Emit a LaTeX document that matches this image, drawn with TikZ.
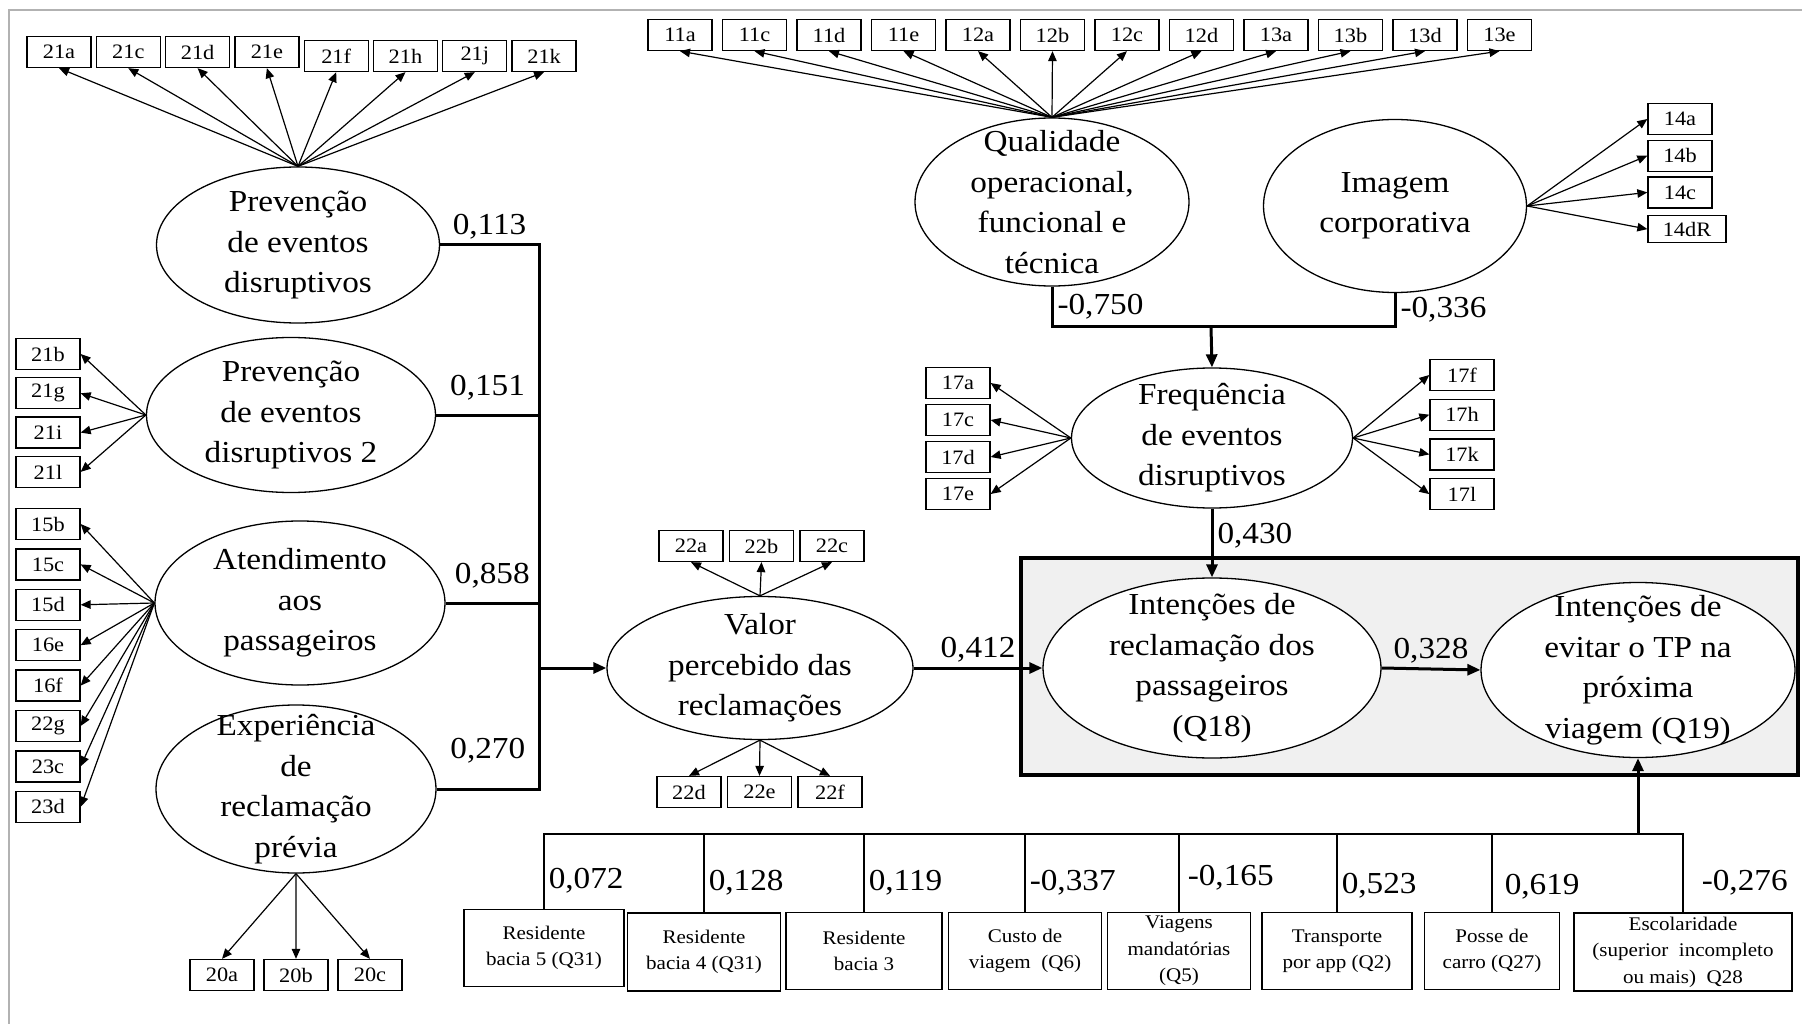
\documentclass[tikz,border=0pt]{standalone}
\usepackage{fontspec}
\setmainfont{Liberation Serif}[FakeStretch=1.09]
\usetikzlibrary{positioning,shapes.geometric,arrows.meta}

\begin{document}
\begin{tikzpicture}[x=0.1mm,y=-0.1mm,>={Triangle[length=1mm,width=0.85mm]},
    latent/.style={ellipse,draw,fill=white,line width=0.13mm,inner sep=0pt},
    lattext/.style={align=center,font=\fontsize{3.05mm}{4.05mm}\selectfont},
    ind/.style={rectangle,draw,line width=0.13mm,minimum width=6.4mm,minimum height=3.1mm,inner sep=0pt,font=\fontsize{2.05mm}{2.4mm}\selectfont},
    cov/.style={rectangle,draw,line width=0.13mm,inner sep=0pt,align=center,minimum height=7.65mm,font=\fontsize{1.93mm}{2.65mm}\selectfont},
    coef/.style={inner sep=0.4mm,font=\fontsize{3.05mm}{3.6mm}\selectfont},
    load/.style={->,line width=0.12mm},
    struct/.style={line width=0.3mm,>={Triangle[length=1.3mm,width=1.1mm]}},
    bus/.style={line width=0.15mm}]
    \useasboundingbox (0,0) rectangle (1802,1024);
    \draw[gray!60,line width=0.2mm] (9,1024) -- (9,10) -- (1802,10);

    % shaded block round the two outcomes
    \draw[line width=0.35mm,fill=gray!12] (1021,558) rectangle (1798,775);

    % latent constructs
    \node[latent,minimum width=28.3mm,minimum height=15.6mm,label={[lattext]center:{Prevenção\\de eventos\\disruptivos}}] (pv1) at (298,245) {};
    \node[latent,minimum width=28.9mm,minimum height=15.5mm,label={[lattext]center:{Prevenção\\de eventos\\disruptivos 2}}] (pv2) at (291,415) {};
    \node[latent,minimum width=29mm,minimum height=16.4mm,label={[lattext]center:{Atendimento\\aos\\passageiros}}] (atd) at (300,603) {};
    \node[latent,minimum width=28mm,minimum height=16.8mm,label={[lattext]center:{Experiência\\de\\reclamação\\prévia}}] (exp) at (296,789) {};
    \node[latent,minimum width=30.6mm,minimum height=14.3mm,label={[lattext]center:{Valor\\percebido das\\reclamações}}] (valor) at (760,668) {};
    \node[latent,minimum width=27.4mm,minimum height=16.8mm,label={[lattext]center:{Qualidade\\operacional,\\funcional e\\técnica}}] (qual) at (1052,202) {};
    \node[latent,minimum width=26.3mm,minimum height=17.3mm,label={[lattext]center:{Imagem\\corporativa}}] (img) at (1395,206) {};
    \node[latent,minimum width=28.1mm,minimum height=14mm,label={[lattext]center:{Frequência\\de eventos\\disruptivos}}] (freq) at (1212,438) {};
    \node[latent,minimum width=33.8mm,minimum height=18mm,label={[lattext]center:{Intenções de\\reclamação dos\\passageiros\\(Q18)}}] (q18) at (1212,668) {};
    \node[latent,minimum width=31.4mm,minimum height=17.5mm,label={[lattext]center:{Intenções de\\evitar o TP na\\próxima\\viagem (Q19)}}] (q19) at (1638,670) {};

    % indicators
    \begin{scope}[node distance=6.93mm]
    \node[ind] (i21a) at (59,52) {21a};
    \node[ind] (i21c) [right of=i21a] {21c};
    \node[ind] (i21d) [right of=i21c] {21d};
    \node[ind] (i21e) [right of=i21d] {21e};
    \node[ind] (i21f) [right of=i21e,yshift=-0.4mm] {21f};
    \node[ind] (i21h) [right of=i21f] {21h};
    \node[ind] (i21j) [right of=i21h] {21j};
    \node[ind] (i21k) [right of=i21j] {21k};
    \end{scope}
    \begin{scope}[node distance=7.45mm]
    \node[ind] (i11a) at (680,35) {11a};
    \node[ind] (i11c) [right of=i11a] {11c};
    \node[ind] (i11d) [right of=i11c] {11d};
    \node[ind] (i11e) [right of=i11d] {11e};
    \node[ind] (i12a) [right of=i11e] {12a};
    \node[ind] (i12b) [right of=i12a] {12b};
    \node[ind] (i12c) [right of=i12b] {12c};
    \node[ind] (i12d) [right of=i12c] {12d};
    \node[ind] (i13a) [right of=i12d] {13a};
    \node[ind] (i13b) [right of=i13a] {13b};
    \node[ind] (i13d) [right of=i13b] {13d};
    \node[ind] (i13e) [right of=i13d] {13e};
    \end{scope}
    \begin{scope}[node distance=3.93mm]
    \node[ind] (i21b) at (48,354) {21b};
    \node[ind] (i21g) [below of=i21b] {21g};
    \node[ind] (i21i) [below of=i21g] {21i};
    \node[ind] (i21l) [below of=i21i] {21l};
    \end{scope}
    \begin{scope}[node distance=4.04mm]
    \node[ind] (i15b) at (48,524) {15b};
    \node[ind] (i15c) [below of=i15b] {15c};
    \node[ind] (i15d) [below of=i15c] {15d};
    \node[ind] (i16e) [below of=i15d] {16e};
    \node[ind] (i16f) [below of=i16e] {16f};
    \node[ind] (i22g) [below of=i16f] {22g};
    \node[ind] (i23c) [below of=i22g] {23c};
    \node[ind] (i23d) [below of=i23c] {23d};
    \end{scope}
    \begin{scope}[node distance=7.4mm]
    \node[ind] (i20a) at (222,975) {20a};
    \node[ind] (i20b) [right of=i20a] {20b};
    \node[ind] (i20c) [right of=i20b] {20c};
    \end{scope}
    \begin{scope}[node distance=7.05mm]
    \node[ind] (i22a) at (691,546) {22a};
    \node[ind] (i22b) [right of=i22a] {22b};
    \node[ind] (i22c) [right of=i22b] {22c};
    \node[ind] (i22d) at (689,792) {22d};
    \node[ind] (i22e) [right of=i22d] {22e};
    \node[ind] (i22f) [right of=i22e] {22f};
    \end{scope}
    \begin{scope}[node distance=3.7mm]
    \node[ind] (i17a) at (958,383) {17a};
    \node[ind] (i17c) [below of=i17a] {17c};
    \node[ind] (i17d) [below of=i17c] {17d};
    \node[ind] (i17e) [below of=i17d] {17e};
    \end{scope}
    \begin{scope}[node distance=3.97mm]
    \node[ind] (i17f) at (1462,375) {17f};
    \node[ind] (i17h) [below of=i17f] {17h};
    \node[ind] (i17k) [below of=i17h] {17k};
    \node[ind] (i17l) [below of=i17k] {17l};
    \end{scope}
    \begin{scope}[node distance=3.67mm]
    \node[ind] (i14a) at (1680,119) {14a};
    \node[ind] (i14b) [below of=i14a] {14b};
    \node[ind] (i14c) [below of=i14b] {14c};
    \node[ind,minimum width=7.8mm,minimum height=2.7mm,xshift=0.7mm] (i14dR) [below of=i14c] {14dR};
    \end{scope}

    % covariates
    \node[cov,minimum width=16mm] (c1) at (544,948) {Residente\\bacia 5 (Q31)};
    \node[cov,minimum width=15.3mm,minimum height=7.8mm] (c2) at (704,952) {Residente\\bacia 4 (Q31)};
    \node[cov,minimum width=15.6mm] (c3) at (864,951) {Residente\\bacia 3};
    \node[cov,minimum width=15.3mm] (c4) at (1025,951) {Custo de\\viagem~~(Q6)};
    \node[cov,minimum width=14.3mm] (c5) at (1179,951) {Viagens\\mandatórias\\(Q5)};
    \node[cov,minimum width=15mm] (c6) at (1337,951) {Transporte\\por app (Q2)};
    \node[cov,minimum width=13.5mm] (c7) at (1492,951) {Posse de\\carro (Q27)};
    \node[cov,minimum width=21.8mm,minimum height=7.8mm] (c8) at (1683,952) {Escolaridade\\(superior~~incompleto\\ou mais)~~Q28};

    % loadings
    \path[load] (pv1.north) edge (i21a.south) edge (i21c.south) edge (i21d.south) edge (i21e.south)
        edge (i21f.south) edge (i21h.south) edge (i21j.south) edge (i21k.south);
    \path[load] (pv2.west) edge (i21b.east) edge (i21g.east) edge (i21i.east) edge (i21l.east);
    \path[load] (atd.west) edge (i15b.east) edge (i15c.east) edge (i15d.east) edge (i16e.east)
        edge (i16f.east) edge (i22g.east) edge (i23c.east) edge (i23d.east);
    \path[load] (exp.south) edge (i20a.north) edge (i20b.north) edge (i20c.north);
    \path[load] (valor.north) edge (i22a.south) edge (i22b.south) edge (i22c.south);
    \path[load] (valor.south) edge (i22d.north) edge (i22e.north) edge (i22f.north);
    \path[load] (qual.north) edge (i11a.south) edge (i11c.south) edge (i11d.south) edge (i11e.south)
        edge (i12a.south) edge (i12b.south) edge (i12c.south) edge (i12d.south)
        edge (i13a.south) edge (i13b.south) edge (i13d.south) edge (i13e.south);
    \path[load] (img.east) edge (i14a.west) edge (i14b.west) edge (i14c.west) edge (i14dR.west);
    \path[load] (freq.west) edge (i17a.east) edge (i17c.east) edge (i17d.east) edge (i17e.east);
    \path[load] (freq.east) edge (i17f.west) edge (i17h.west) edge (i17k.west) edge (i17l.west);

    % structural paths
    \coordinate (jn) at (539,668);
    \draw[struct] (pv1.east) -| node[coef,pos=0.25,above] {0,113} (jn);
    \draw[struct] (pv2.east) -| node[coef,pos=0.25,above=0.9mm] {0,151} (jn);
    \draw[struct] (atd.east) -| node[coef,pos=0.25,above=0.9mm] {0,858} (jn);
    \draw[struct] (exp.east) -| node[coef,pos=0.25,above=2mm] {0,270} (jn);
    \draw[struct,->] (jn) -- (valor.west);

    \coordinate (fj) at (1211,327);
    \draw[struct] (qual.south) |- node[coef,pos=0.25,right] {-0,750} (fj);
    \draw[struct] (img.south) |- node[coef,pos=0.25,right] {-0,336} (fj);
    \draw[struct,->] (fj) -- (freq.north);
    \draw[struct,->] (freq.south) -- node[coef,pos=0.4,right] {0,430} (q18.north);
    \draw[struct,->] (valor.east) -- node[coef,above] {0,412} (q18.west);
    \draw[struct,->] (q18.east) -- node[coef,above] {0,328} (q19.west);

    \coordinate (bj) at (1638,834);
    \draw[bus] (c1.north) |- node[coef,pos=0.19,right] {0,072} (bj);
    \draw[bus] (c2.north) |- node[coef,pos=0.19,right] {0,128} (bj);
    \draw[bus] (c3.north) |- node[coef,pos=0.19,right] {0,119} (bj);
    \draw[bus] (c4.north) |- node[coef,pos=0.19,right] {-0,337} (bj);
    \draw[bus] (c5.north) |- node[coef,pos=0.22,right,xshift=0.4mm] {-0,165} (bj);
    \draw[bus] (c6.north) |- node[coef,pos=0.17,right] {0,523} (bj);
    \draw[bus] (c7.north) |- node[coef,pos=0.16,right,xshift=0.8mm] {0,619} (bj);
    \draw[bus] (c8.north) |- node[coef,pos=0.19,right,xshift=1.4mm] {-0,276} (bj);
    \draw[struct,->] (bj) -- (q19.south);
\end{tikzpicture}
\end{document}
